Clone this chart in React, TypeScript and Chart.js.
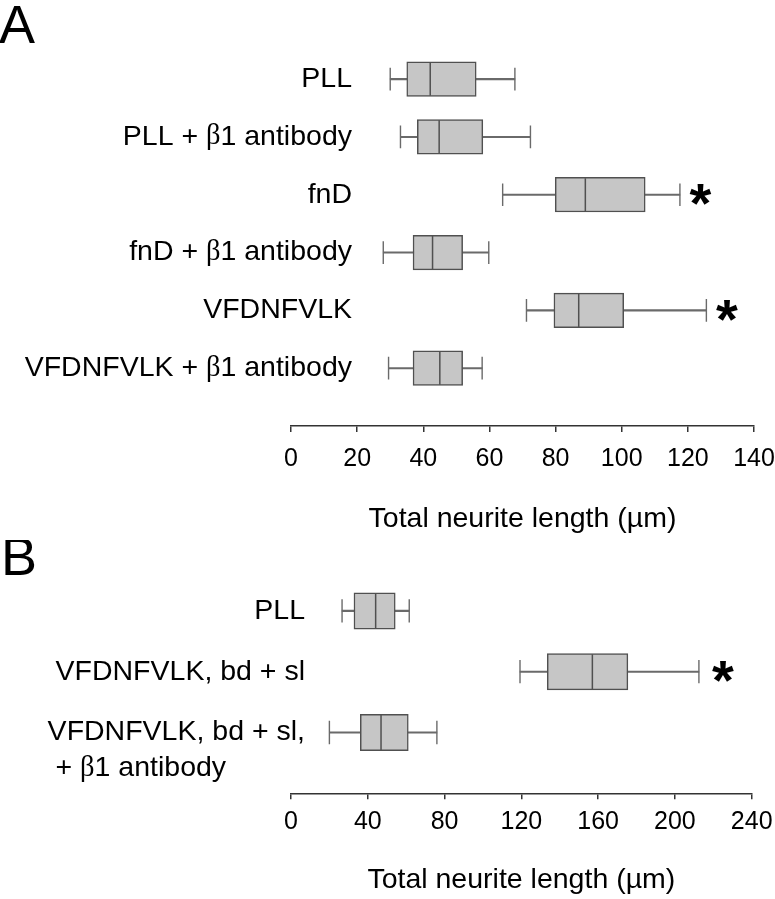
import React, { useEffect, useRef } from "react";
import { Chart, registerables } from "chart.js";

Chart.register(...registerables);

const SANS = '"Liberation Sans", Arial, Helvetica, sans-serif';
const SERIF = '"Liberation Serif", "Times New Roman", serif';
Chart.defaults.font.family = SANS;

// ---------- Panel A data ----------
const categoriesA: string[][] = [
  ["PLL"],
  ["PLL + β1 antibody"],
  ["fnD"],
  ["fnD + β1 antibody"],
  ["VFDNFVLK"],
  ["VFDNFVLK + β1 antibody"],
];
const whiskerLowA = [30.0, 33.1, 64.0, 27.9, 71.2, 29.5];
const quartile1A = [35.0, 38.2, 79.9, 36.9, 79.5, 36.9];
const medianA = [42.1, 44.8, 89.0, 42.8, 87.0, 45.0];
const quartile3A = [56.0, 58.0, 107.1, 51.9, 100.6, 51.9];
const whiskerHighA = [67.7, 72.4, 117.6, 59.8, 125.6, 57.8];
const significantA = [false, false, true, false, true, false];
const axisMaxA = 140;
const axisStepA = 20;

// ---------- Panel B data ----------
const categoriesB: string[][] = [
  ["PLL"],
  ["VFDNFVLK, bd + sl"],
  ["VFDNFVLK, bd + sl,", " + β1 antibody"],
];
const whiskerLowB = [26.6, 119.3, 20.0];
const quartile1B = [32.8, 133.5, 36.1];
const medianB = [44.1, 157.0, 46.9];
const quartile3B = [54.3, 175.5, 61.1];
const whiskerHighB = [61.6, 212.5, 76.0];
const significantB = [false, true, false];
const axisMaxB = 240;
const axisStepB = 40;

const axisTitle = "Total neurite length (µm)";

// ---------- styles ----------
const BOX_FILL = "#c6c6c6";
const BOX_EDGE = "#505050";
const WHISKER = "#6a6a6a";
const AXIS = "#333333";
const LABEL_SIZE = 28.5;
const TITLE_SIZE = 28.5;
const TICK_SIZE = 25;
const LETTER_SIZE = 54;
const STAR_SIZE = 56;

type PanelSpec = {
  letter: string;
  categories: string[][];
  whiskerLow: number[];
  q1: number[];
  median: number[];
  q3: number[];
  whiskerHigh: number[];
  significant: boolean[];
  axisMax: number;
  axisStep: number;
  top: number;
  height: number;
  padding: { left: number; right: number; top: number; bottom: number };
  boxThickness: number;
  capLength: number;
  labelRight: number;
  lineGap: number;
  tickPadding: number;
  titlePadTop: number;
  titlePadBottom: number;
  letterX: number;
  letterBaseline: number;
  starGap: number;
};

const panelA: PanelSpec = {
  letter: "A",
  categories: categoriesA,
  whiskerLow: whiskerLowA,
  q1: quartile1A,
  median: medianA,
  q3: quartile3A,
  whiskerHigh: whiskerHighA,
  significant: significantA,
  axisMax: axisMaxA,
  axisStep: axisStepA,
  top: 0,
  height: 540,
  padding: { left: 291, right: 21, top: 50.2, bottom: 1.8 },
  boxThickness: 34.6,
  capLength: 22.7,
  labelRight: 61,
  lineGap: 36,
  tickPadding: 12,
  titlePadTop: 16,
  titlePadBottom: 2,
  letterX: -1,
  letterBaseline: 43.3,
  starGap: 20.5,
};

const panelB: PanelSpec = {
  letter: "B",
  categories: categoriesB,
  whiskerLow: whiskerLowB,
  q1: quartile1B,
  median: medianB,
  q3: quartile3B,
  whiskerHigh: whiskerHighB,
  significant: significantB,
  axisMax: axisMaxB,
  axisStep: axisStepB,
  top: 540,
  height: 359,
  padding: { left: 291, right: 23.3, top: 40.5, bottom: 1.3 },
  boxThickness: 36.3,
  capLength: 23.3,
  labelRight: 14,
  lineGap: 36,
  tickPadding: 8.2,
  titlePadTop: 17.8,
  titlePadBottom: 0,
  letterX: 1,
  letterBaseline: 35,
  starGap: 24,
};

function segments(text: string): string[] {
  return text.split(/(β)/).filter((s) => s.length > 0);
}

function segFont(seg: string) {
  return seg === "β" ? `${LABEL_SIZE}px ${SERIF}` : `${LABEL_SIZE}px ${SANS}`;
}

function richWidth(ctx: CanvasRenderingContext2D, text: string) {
  let w = 0;
  for (const s of segments(text)) {
    ctx.font = segFont(s);
    w += ctx.measureText(s).width;
  }
  return w;
}

function drawRich(ctx: CanvasRenderingContext2D, text: string, x: number, y: number) {
  let cx = x;
  ctx.textAlign = "left";
  for (const s of segments(text)) {
    ctx.font = segFont(s);
    ctx.fillText(s, cx, y);
    cx += ctx.measureText(s).width;
  }
}

function makeDecor(spec: PanelSpec) {
  return {
    id: "decor" + spec.letter,
    afterDraw(chart: any) {
      const { ctx, chartArea } = chart;
      const xs = chart.scales.x;
      const ys = chart.scales.y;
      ctx.save();
      ctx.fillStyle = "#000";
      ctx.textAlign = "left";
      ctx.textBaseline = "alphabetic";
      ctx.font = `${LETTER_SIZE}px ${SANS}`;
      ctx.fillText(spec.letter, spec.letterX, spec.letterBaseline);

      ctx.textBaseline = "middle";
      spec.categories.forEach((lines, i) => {
        const cy = ys.getPixelForValue(i);
        const right = chartArea.left + spec.labelRight;
        const startX = right - richWidth(ctx, lines[0]);
        lines.forEach((line, j) => drawRich(ctx, line, startX, cy + j * spec.lineGap));
      });

      ctx.font = `bold ${STAR_SIZE}px ${SANS}`;
      ctx.textAlign = "center";
      ctx.textBaseline = "alphabetic";
      const m = ctx.measureText("*");
      spec.significant.forEach((sig, i) => {
        if (!sig) return;
        const cx = xs.getPixelForValue(spec.whiskerHigh[i]) + spec.starGap;
        const cy = ys.getPixelForValue(i);
        ctx.fillText("*", cx, cy + (m.actualBoundingBoxAscent - m.actualBoundingBoxDescent) / 2);
      });
      ctx.restore();
    },
  };
}

function BoxPanel({ spec }: { spec: PanelSpec }) {
  const ref = useRef<HTMLCanvasElement | null>(null);

  useEffect(() => {
    if (!ref.current) return;
    const n = spec.categories.length;
    const rows = spec.categories.map((_, i) => i);

    const chart = new Chart(ref.current, {
      type: "bar",
      data: {
        datasets: [
          {
            type: "bar",
            label: "whisker",
            data: rows.map((i) => ({ y: i, x: [spec.whiskerLow[i], spec.whiskerHigh[i]] })) as any,
            backgroundColor: WHISKER,
            borderWidth: 0,
            barThickness: 1.4,
            grouped: false,
            order: 3,
          } as any,
          {
            type: "bar",
            label: "box",
            data: rows.map((i) => ({ y: i, x: [spec.q1[i], spec.q3[i]] })) as any,
            backgroundColor: BOX_FILL,
            borderColor: BOX_EDGE,
            borderWidth: 1.5,
            borderSkipped: false,
            barThickness: spec.boxThickness,
            grouped: false,
            order: 2,
          } as any,
          {
            type: "scatter",
            label: "median",
            data: rows.map((i) => ({ x: spec.median[i], y: i })),
            pointStyle: "line",
            rotation: 90,
            radius: spec.boxThickness / 2 - 0.75,
            borderColor: BOX_EDGE,
            borderWidth: 1.5,
            order: 1,
          } as any,
          {
            type: "scatter",
            label: "caps",
            data: rows
              .map((i) => ({ x: spec.whiskerLow[i], y: i }))
              .concat(rows.map((i) => ({ x: spec.whiskerHigh[i], y: i }))),
            pointStyle: "line",
            rotation: 90,
            radius: spec.capLength / 2,
            borderColor: WHISKER,
            borderWidth: 1.4,
            order: 0,
          } as any,
        ],
      },
      options: {
        indexAxis: "y",
        responsive: false,
        animation: false,
        events: [],
        layout: { padding: spec.padding },
        plugins: { legend: { display: false }, tooltip: { enabled: false } },
        scales: {
          y: {
            type: "linear",
            display: false,
            reverse: true,
            offset: false,
            min: -0.5,
            max: n,
          },
          x: {
            type: "linear",
            min: 0,
            max: spec.axisMax,
            offset: false,
            afterFit: (scale: any) => {
              scale.paddingLeft = 0;
              scale.paddingRight = 0;
            },
            ticks: {
              stepSize: spec.axisStep,
              color: "#000",
              padding: spec.tickPadding,
              font: { size: TICK_SIZE, family: SANS },
              maxRotation: 0,
              autoSkip: false,
            },
            grid: {
              display: true,
              drawOnChartArea: false,
              drawTicks: true,
              tickLength: 6,
              color: AXIS,
              lineWidth: 1.5,
            },
            border: { display: true, color: AXIS, width: 1.5 },
            title: {
              display: true,
              text: axisTitle,
              color: "#000",
              font: { size: TITLE_SIZE, family: SANS },
              padding: { top: spec.titlePadTop, bottom: spec.titlePadBottom },
            },
          },
        },
      } as any,
      plugins: [makeDecor(spec)],
    });
    return () => chart.destroy();
  }, [spec]);

  return (
    <canvas
      ref={ref}
      width={775}
      height={spec.height}
      style={{ position: "absolute", left: 0, top: spec.top, width: 775, height: spec.height, display: "block" }}
    />
  );
}

export default function App() {
  return (
    <div
      style={{
        position: "absolute",
        left: 0,
        top: 0,
        width: 775,
        height: 899,
        background: "#ffffff",
        overflow: "hidden",
      }}
    >
      <BoxPanel spec={panelA} />
      <BoxPanel spec={panelB} />
    </div>
  );
}
